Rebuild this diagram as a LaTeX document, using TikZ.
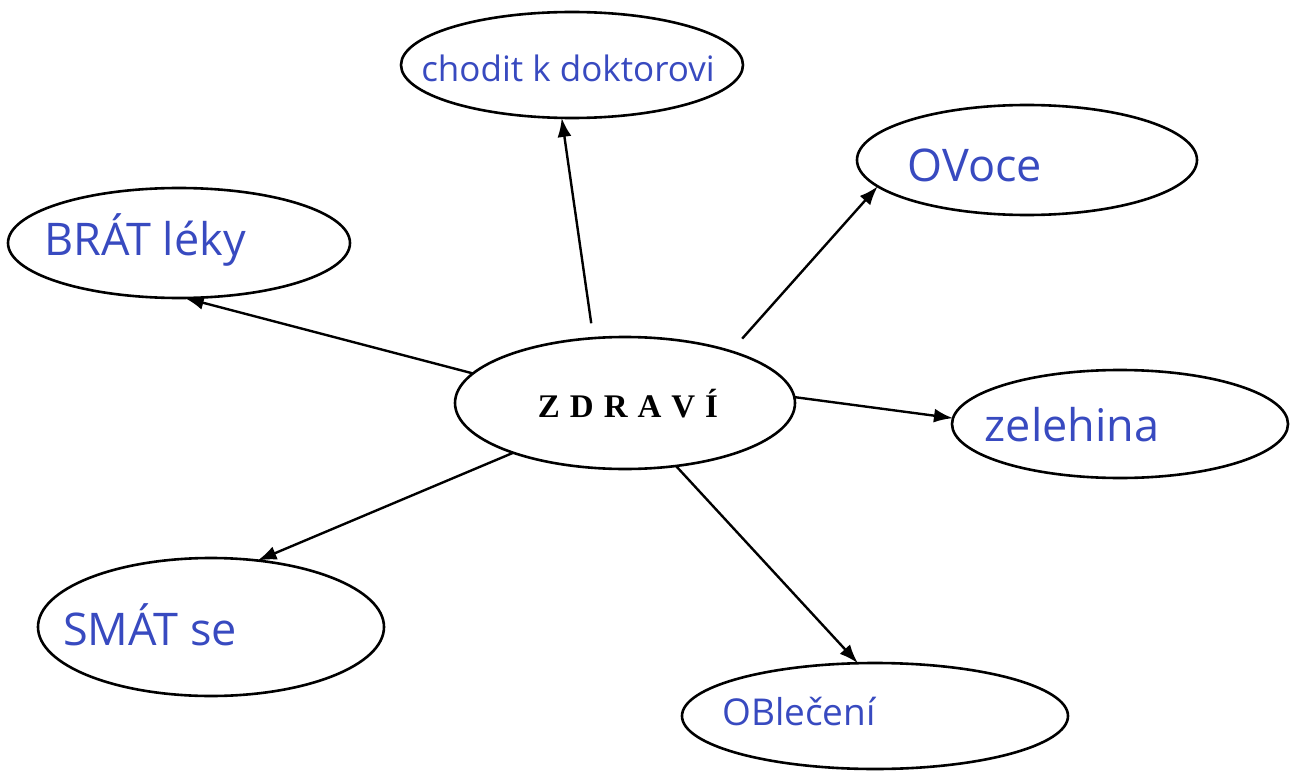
\documentclass[tikz,border=0pt]{standalone}
\usepackage{fontspec}
\setmainfont{Liberation Serif}
\newfontfamily\hand{Open Sans}
\usetikzlibrary{arrows.meta,shapes.geometric}
\definecolor{ink}{RGB}{56,74,192}
\tikzset{
  bubble/.style={draw=black, line width=2.6pt, ellipse, inner sep=0pt, outer sep=0pt},
  handtext/.style={text=ink, inner sep=0pt, font=\hand},
  link/.style={draw=black, line width=2.4pt, -{Latex[length=19pt,width=14pt]}}
}
\begin{document}
\begin{tikzpicture}[x=1pt,y=-1pt]
\useasboundingbox[fill=white] (0,0) rectangle (1299,773);
% ellipses
\node[bubble, minimum width=340pt, minimum height=132pt] (c) at (625,403) {};
\node[bubble, minimum width=342pt, minimum height=106pt] (doc) at (572,65) {};
\node[bubble, minimum width=340pt, minimum height=110pt] (fruit) at (1027,160) {};
\node[bubble, minimum width=342pt, minimum height=110pt] (pills) at (179,243) {};
\node[bubble, minimum width=336pt, minimum height=108pt] (veg) at (1120,424) {};
\node[bubble, minimum width=346pt, minimum height=138pt] (laugh) at (211,627) {};
\node[bubble, minimum width=386pt, minimum height=106pt] (clothes) at (875,716) {};
% texts
\node[inner sep=0pt, font=\fontsize{33}{33}\selectfont\bfseries] (ct) at (628,404) {Z\hspace{10pt}D\hspace{10pt}R\hspace{10pt}A\hspace{10pt}V\hspace{10pt}Í};
\node[handtext, font=\hand\fontsize{35}{35}\selectfont] (doct) at (568,68) {chodit k doktorovi};
\node[handtext, font=\hand\fontsize{45}{45}\selectfont] (fruitt) at (975,165) {OVoce};
\node[handtext, font=\hand\fontsize{45}{45}\selectfont] (pillst) at (145,240) {BRÁT léky};
\node[handtext, font=\hand\fontsize{45}{45}\selectfont] (vegt) at (1072,425) {zelehina};
\node[handtext, font=\hand\fontsize{45}{45}\selectfont] (laught) at (150,625) {SMÁT se};
\node[handtext, font=\hand\fontsize{37}{37}\selectfont] (clothest) at (799,712) {OBlečení};
% connectors
\draw[link, shorten <=15pt] (c.116) -- (doc.259);
\draw[link, shorten <=17pt] (c.26) -- (fruit.190.3);
\draw[link] (c.169.5) -- (pills.276);
\draw[link] (c.2) -- (veg.178.6);
\draw[link] (c.204.9) -- (laugh.55.4);
\draw[link] (c.309.8) -- (clothes.108.4);
\end{tikzpicture}
\end{document}
